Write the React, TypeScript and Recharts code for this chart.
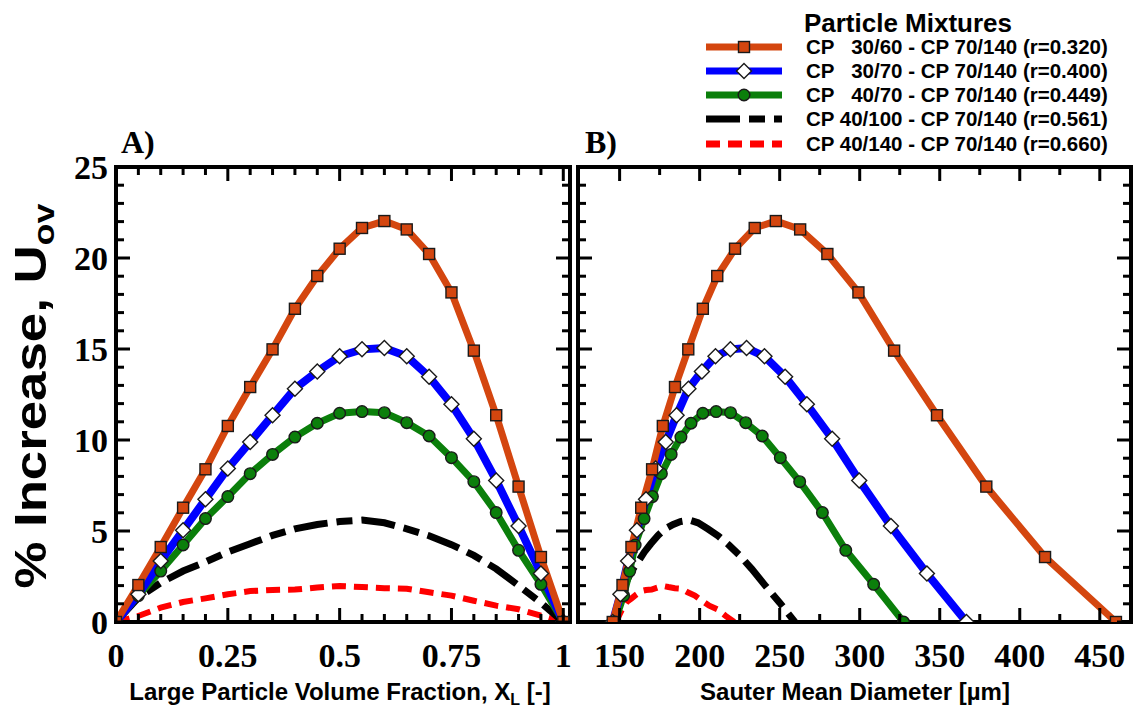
import React from 'react';
import { LineChart, Line, XAxis, YAxis } from 'recharts';

// ---------- data ----------
const xFraction = [0, 0.05, 0.1, 0.15, 0.2, 0.25, 0.3, 0.35, 0.4, 0.45, 0.5, 0.55, 0.6, 0.65, 0.7, 0.75, 0.8, 0.85, 0.9, 0.95, 1];

const orangeY = [0, 2.03, 4.12, 6.28, 8.39, 10.77, 12.91, 14.98, 17.21, 19.01, 20.51, 21.65, 22.03, 21.57, 20.22, 18.11, 14.91, 11.36, 7.44, 3.57, 0];
const blueY = [0, 1.52, 3.35, 5.04, 6.74, 8.44, 9.89, 11.36, 12.82, 13.77, 14.6, 14.98, 15.05, 14.6, 13.48, 11.96, 10.07, 7.78, 5.27, 2.67, 0];
const greenY = [0, 1.45, 2.8, 4.23, 5.68, 6.89, 8.15, 9.21, 10.16, 10.92, 11.47, 11.56, 11.5, 10.95, 10.22, 9.03, 7.71, 6.01, 3.94, 2.07, 0];
const blackY = [0, 1.34, 2.16, 2.8, 3.3, 3.85, 4.3, 4.76, 5.12, 5.36, 5.52, 5.6, 5.45, 5.12, 4.74, 4.25, 3.66, 2.92, 2.0, 1.06, 0];
const redY = [0, 0.33, 0.79, 1.1, 1.3, 1.52, 1.7, 1.76, 1.78, 1.89, 1.98, 1.92, 1.86, 1.83, 1.63, 1.45, 1.17, 0.9, 0.7, 0.35, 0];

const sauterOrange = [145.7, 151.8, 157.4, 163.5, 170.3, 177.0, 184.6, 192.9, 202.0, 211.0, 222.1, 234.4, 247.6, 262.8, 279.8, 299.2, 321.5, 348.3, 379.1, 415.8, 460.1];
const sauterBlue = [145.7, 150.5, 155.3, 160.8, 166.5, 172.5, 178.8, 185.6, 193.0, 201.4, 209.9, 219.2, 229.3, 240.5, 253.4, 267.0, 282.8, 299.7, 319.5, 342.0, 366.7];
const sauterGreen = [147, 152.5, 156.3, 159.7, 165.3, 170.5, 176.1, 182.2, 188.3, 194.6, 202.0, 210.3, 219.3, 228.8, 239.1, 250.4, 262.5, 276.7, 291.3, 308.7, 327.4];
const sauterBlack = [147, 150.5, 154, 157.5, 161.5, 165.5, 169.5, 174, 178.5, 183.5, 188, 193.5, 199, 205, 211.5, 218, 225, 232.5, 241, 250, 259.5];
const sauterRed = [147, 149.5, 152, 154.5, 157.5, 160.5, 163.5, 166.5, 170, 173.5, 177, 180.5, 184.5, 188.5, 192.5, 197, 201.5, 206, 211, 216, 221.6];

const xTicksA = [0, 0.05, 0.1, 0.15, 0.2, 0.25, 0.3, 0.35, 0.4, 0.45, 0.5, 0.55, 0.6, 0.65, 0.7, 0.75, 0.8, 0.85, 0.9, 0.95, 1];
const xTickLabelsA = ['0', '0.25', '0.5', '0.75', '1'];
const xTicksB = [150, 175, 200, 225, 250, 275, 300, 325, 350, 375, 400, 425, 450];
const xTickLabelsB = ['150', '200', '250', '300', '350', '400', '450'];
const yTicks = [0, 1, 2, 3, 4, 5, 6, 7, 8, 9, 10, 11, 12, 13, 14, 15, 16, 17, 18, 19, 20, 21, 22, 23, 24, 25];
const yTickLabels = ['0', '5', '10', '15', '20', '25'];

const legendLabels = [
  'CP   30/60 - CP 70/140 (r=0.320)',
  'CP   30/70 - CP 70/140 (r=0.400)',
  'CP   40/70 - CP 70/140 (r=0.449)',
  'CP 40/100 - CP 70/140 (r=0.561)',
  'CP 40/140 - CP 70/140 (r=0.660)',
];

// ---------- styles ----------
const ORANGE = '#D4460F';
const BLUE = '#0000FF';
const GREEN = '#0B7F0B';
const BLACK = '#000000';
const RED = '#FF0000';
const BLACK_DASH = '34 9 16 9';
const RED_DASH = '14 8';
const SERIF = '"Liberation Serif", "Times New Roman", serif';
const SANS = '"Liberation Sans", Arial, sans-serif';

const pts = (xs: number[], ys: number[]) => xs.map((x, i) => ({ x, y: ys[i] }));

const dataA = {
  orange: pts(xFraction, orangeY),
  blue: pts(xFraction, blueY),
  green: pts(xFraction, greenY),
  black: pts(xFraction, blackY),
  red: pts(xFraction, redY),
};
const dataB = {
  orange: pts(sauterOrange, orangeY),
  blue: pts(sauterBlue, blueY),
  green: pts(sauterGreen, greenY),
  black: pts(sauterBlack, blackY),
  red: pts(sauterRed, redY),
};

// ---------- markers ----------
const SquareMark = ({ cx, cy }: { cx: number; cy: number }) => (
  <rect x={cx - 5.5} y={cy - 5.5} width={11} height={11} fill={ORANGE} stroke="#1a1a1a" strokeWidth={1.4} />
);
const DiamondMark = ({ cx, cy }: { cx: number; cy: number }) => (
  <polygon points={`${cx},${cy - 7.5} ${cx + 7.5},${cy} ${cx},${cy + 7.5} ${cx - 7.5},${cy}`} fill="#fff" stroke="#1a1a1a" strokeWidth={1.4} />
);
const CircleMark = ({ cx, cy }: { cx: number; cy: number }) => (
  <circle cx={cx} cy={cy} r={5.8} fill={GREEN} stroke="#1a1a1a" strokeWidth={1.4} />
);

const squareDot = (p: any) => (p.cx == null ? <g key={`s${p.index}`} /> : <g key={`s${p.index}`}><SquareMark cx={p.cx} cy={p.cy} /></g>);
const diamondDot = (p: any) => (p.cx == null ? <g key={`d${p.index}`} /> : <g key={`d${p.index}`}><DiamondMark cx={p.cx} cy={p.cy} /></g>);
const circleDot = (p: any) => (p.cx == null ? <g key={`c${p.index}`} /> : <g key={`c${p.index}`}><CircleMark cx={p.cx} cy={p.cy} /></g>);

// ---------- ticks ----------
const MAJ = 14;
const MIN = 8;
const TW = 3;

const bottomTick = (labels: string[]) => (props: any) => {
  const { x, y, payload } = props;
  const label = String(payload.value);
  const major = labels.includes(label);
  return (
    <g>
      <line x1={x} x2={x} y1={y} y2={y - (major ? MAJ : MIN)} stroke="#000" strokeWidth={TW} />
      {major && (
        <text x={x} y={y + 45} textAnchor="middle" fontFamily={SERIF} fontWeight="bold" fontSize={34} fill="#000">
          {label}
        </text>
      )}
    </g>
  );
};
const topTick = (labels: string[]) => (props: any) => {
  const { x, y, payload } = props;
  const major = labels.includes(String(payload.value));
  return <line x1={x} x2={x} y1={y} y2={y + (major ? MAJ : MIN)} stroke="#000" strokeWidth={TW} />;
};
const leftTick = (showLabels: boolean) => (props: any) => {
  const { x, y, payload } = props;
  const label = String(payload.value);
  const major = yTickLabels.includes(label);
  return (
    <g>
      <line x1={x} x2={x + (major ? MAJ : MIN)} y1={y} y2={y} stroke="#000" strokeWidth={TW} />
      {showLabels && major && (
        <text x={x - 8} y={y + 12} textAnchor="end" fontFamily={SERIF} fontWeight="bold" fontSize={34} fill="#000">
          {label}
        </text>
      )}
    </g>
  );
};
const rightTick = (props: any) => {
  const { x, y, payload } = props;
  const major = yTickLabels.includes(String(payload.value));
  return <line x1={x} x2={x - (major ? MAJ : MIN)} y1={y} y2={y} stroke="#000" strokeWidth={TW} />;
};

const axisStyle = { stroke: '#000', strokeWidth: 4, strokeLinecap: 'square' as const };

type Series = { orange: any[]; blue: any[]; green: any[]; black: any[]; red: any[] };

const Panel = ({
  data, width, margin, domain, ticks, labels, yLabels,
}: {
  data: Series; width: number; margin: any; domain: [number, number]; ticks: number[]; labels: string[]; yLabels: boolean;
}) => (
  <LineChart width={width} height={717} margin={margin}>
    <XAxis xAxisId="b" type="number" dataKey="x" domain={domain} ticks={ticks} interval={0} tickSize={0} tickMargin={0}
      tickLine={false} axisLine={axisStyle} tick={bottomTick(labels)} height={30} allowDataOverflow />
    <XAxis xAxisId="t" orientation="top" type="number" dataKey="x" domain={domain} ticks={ticks} interval={0} tickSize={0} tickMargin={0}
      tickLine={false} axisLine={axisStyle} tick={topTick(labels)} height={1} allowDataOverflow />
    <YAxis yAxisId="l" type="number" domain={[0, 25]} ticks={yTicks} interval={0} tickSize={0} tickMargin={0}
      tickLine={false} axisLine={axisStyle} tick={leftTick(yLabels)} width={yLabels ? 30 : 1} allowDataOverflow />
    <YAxis yAxisId="r" orientation="right" type="number" domain={[0, 25]} ticks={yTicks} interval={0} tickSize={0} tickMargin={0}
      tickLine={false} axisLine={axisStyle} tick={rightTick} width={1} allowDataOverflow />
    <Line xAxisId="b" yAxisId="l" data={data.red} dataKey="y" type="linear" stroke={RED} strokeWidth={6} strokeDasharray={RED_DASH} dot={false} isAnimationActive={false} />
    <Line xAxisId="b" yAxisId="l" data={data.black} dataKey="y" type="linear" stroke={BLACK} strokeWidth={7} strokeDasharray={BLACK_DASH} dot={false} isAnimationActive={false} />
    <Line xAxisId="b" yAxisId="l" data={data.green} dataKey="y" type="linear" stroke={GREEN} strokeWidth={7} dot={circleDot} isAnimationActive={false} />
    <Line xAxisId="b" yAxisId="l" data={data.blue} dataKey="y" type="linear" stroke={BLUE} strokeWidth={8} dot={diamondDot} isAnimationActive={false} />
    <Line xAxisId="b" yAxisId="l" data={data.orange} dataKey="y" type="linear" stroke={ORANGE} strokeWidth={7} dot={squareDot} isAnimationActive={false} />
  </LineChart>
);

const legendRowsY = [47, 71, 95, 119, 144];
const legendStyles = [
  { stroke: ORANGE, dash: undefined, mark: 'square' },
  { stroke: BLUE, dash: undefined, mark: 'diamond' },
  { stroke: GREEN, dash: undefined, mark: 'circle' },
  { stroke: BLACK, dash: BLACK_DASH, mark: '' },
  { stroke: RED, dash: RED_DASH, mark: '' },
];

const Overlay = () => (
  <svg width={1133} height={717} style={{ position: 'absolute', left: 0, top: 0, pointerEvents: 'none' }}>
    {/* Legend */}
    <text x={908} y={32} textAnchor="middle" fontFamily={SANS} fontWeight="bold" fontSize={26} fill="#000">Particle Mixtures</text>
    {legendLabels.map((lab, i) => {
      const y = legendRowsY[i];
      const s = legendStyles[i];
      return (
        <g key={lab}>
          <line x1={706} x2={782} y1={y} y2={y} stroke={s.stroke} strokeWidth={7} strokeDasharray={s.dash} />
          {s.mark === 'square' && <SquareMark cx={744} cy={y} />}
          {s.mark === 'diamond' && <DiamondMark cx={744} cy={y} />}
          {s.mark === 'circle' && <CircleMark cx={744} cy={y} />}
          <text x={806} y={y + 7} fontFamily={SANS} fontWeight="bold" fontSize={20.5} fill="#000" style={{ whiteSpace: 'pre' }}>{lab}</text>
        </g>
      );
    })}
    {/* Panel labels */}
    <text x={121} y={153} fontFamily={SERIF} fontWeight="bold" fontSize={32} fill="#000">A)</text>
    <text x={585} y={153} fontFamily={SERIF} fontWeight="bold" fontSize={32} fill="#000">B)</text>
    {/* Y axis title */}
    <text transform="translate(46, 396) rotate(-90) scale(1.2, 1)" textAnchor="middle" fontFamily={SANS} fontWeight="bold" fontSize={44} fill="#000">
      % Increase, U<tspan fontSize={30} dy={8}>ov</tspan>
    </text>
    {/* X axis titles */}
    <text x={340} y={700} textAnchor="middle" fontFamily={SANS} fontWeight="bold" fontSize={24} fill="#000">
      Large Particle Volume Fraction, X<tspan fontSize={16} dy={5}>L</tspan><tspan dy={-5}> [-]</tspan>
    </text>
    <text x={855} y={700} textAnchor="middle" fontFamily={SANS} fontWeight="bold" fontSize={24} fill="#000">Sauter Mean Diameter [µm]</text>
  </svg>
);

export default function App() {
  return (
    <div style={{ position: 'absolute', left: 0, top: 0, width: 1133, height: 717, background: '#fff', overflow: 'hidden' }}>
      <div style={{ position: 'absolute', left: 0, top: 0 }}>
        <Panel data={dataA} width={578} margin={{ top: 166, right: 7, bottom: 65, left: 86 }} domain={[0, 1.015]}
          ticks={xTicksA} labels={xTickLabelsA} yLabels />
      </div>
      <div style={{ position: 'absolute', left: 560, top: 0 }}>
        <Panel data={dataB} width={573} margin={{ top: 166, right: 1, bottom: 65, left: 17 }} domain={[124, 469.5]}
          ticks={xTicksB} labels={xTickLabelsB} yLabels={false} />
      </div>
      <Overlay />
    </div>
  );
}
